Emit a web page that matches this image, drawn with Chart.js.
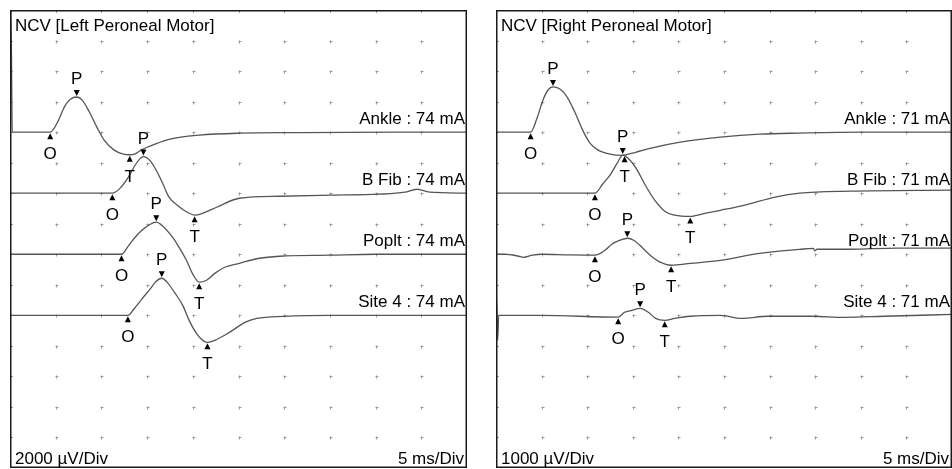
<!DOCTYPE html>
<html>
<head>
<meta charset="utf-8">
<script src="https://cdn.jsdelivr.net/npm/chart.js@4.4.0/dist/chart.umd.min.js"></script>
<style>
    body { margin: 0; background: #fff; }
    .panel { position: absolute; top: 10px; height: 458px; }
    #left { left: 10px; width: 457px; }
    #right { left: 496px; width: 456px; }
</style>
</head>
<body>
<div class="panel" id="left"><canvas id="ncvLeft"></canvas></div>
<div class="panel" id="right"><canvas id="ncvRight"></canvas></div>
<script>
// time in ms, amplitude in µV (relative to each trace's own baseline)
const L_ANKLE = [[0,0],[0.1,8000],[0.25,0],[4.4,0],[5.2,650],[6.0,1700],[6.6,2150],[7.3,2300],[7.9,2100],[8.7,1300],[9.5,330],[10.3,-520],[11.4,-1180],[12.4,-1440],[13.1,-1480],[13.7,-1420],[14.5,-1120],[15.6,-850],[17.5,-460],[20.7,-200],[25.1,-70],[31.7,-30],[42.6,0],[50,0]];
const L_BFIB = [[0,0],[11.2,0],[12.0,300],[12.9,1000],[13.6,1750],[14.2,2250],[14.6,2400],[15.3,2150],[16.0,1500],[16.7,650],[17.4,-260],[18.3,-790],[19.4,-1250],[20.2,-1440],[21.1,-1310],[22.6,-920],[25.1,-330],[29.5,-200],[35,-130],[40.4,-65],[43.2,65],[44.5,260],[45.9,65],[50,0]];
const L_POPLT = [[0,0],[12.2,0],[12.9,500],[13.6,1050],[14.4,1550],[15.3,1950],[16.0,2100],[16.7,1850],[17.8,1100],[18.3,650],[19.3,-390],[20.0,-1300],[20.7,-1830],[21.5,-1700],[22.4,-1250],[23.5,-850],[25.1,-590],[27.3,-260],[29.5,-130],[35,-60],[40,0],[50,0]];
const L_SITE4 = [[0,0],[12.9,0],[13.6,450],[14.4,1050],[15.3,1700],[16.0,2230],[16.6,2430],[17.2,2160],[18.0,1500],[18.9,650],[19.6,-330],[20.4,-1180],[21.1,-1640],[21.6,-1770],[22.4,-1640],[24.0,-1120],[25.7,-460],[27.0,-200],[30.0,-65],[35,0],[50,0]];

const R_ANKLE = [[0,0],[3.8,0],[4.5,460],[5.15,1050],[5.7,1380],[6.25,1480],[7.0,1410],[7.8,1150],[8.65,650],[9.5,65],[10.3,-360],[11.2,-590],[12.5,-720],[13.8,-760],[15.3,-660],[16.9,-530],[20.2,-330],[24.6,-165],[28.9,-65],[33.3,-30],[40,0],[50,0]];
const R_BFIB = [[0,0],[10.85,0],[11.7,300],[12.5,590],[13.3,990],[13.9,1250],[14.7,1080],[15.5,750],[16.3,300],[17.4,-230],[18.5,-590],[19.6,-720],[21.3,-760],[22.9,-660],[24.6,-560],[27.3,-390],[30.6,-130],[33.3,0],[38.8,65],[50,100]];
const R_POPLT = [[0,0],[1,0],[2.5,-65],[3,-100],[4,-30],[5,0],[8,-20],[10.85,-30],[11.95,130],[12.7,330],[13.6,460],[14.4,525],[15.1,460],[16.0,230],[16.9,-30],[18.0,-260],[19.2,-360],[21.3,-300],[24.6,-200],[28.9,30],[33.3,160],[34.8,195],[34.95,110],[35.2,165],[38.8,165],[44,200],[50,200]];
const R_SITE4 = [[0,0],[0.08,490],[0.18,-820],[0.3,0],[5,0],[13.4,-60],[14.1,100],[14.9,165],[15.8,230],[16.7,100],[17.5,-100],[18.5,-165],[19.6,-100],[21.3,-30],[24.6,0],[26.9,-100],[29.8,-30],[34.6,-30],[38.2,-65],[42.5,-30],[50,30]];

const SITES = ['Ankle', 'B Fib', 'Poplt', 'Site 4'];
const LEFT_MA = [74, 74, 74, 74];
const RIGHT_MA = [71, 71, 71, 71];

// marker: [label, trace index, time ms, amplitude µV]
const LEFT_MARKS = [
    ['O',0,4.4,0],['P',0,7.3,2300],['T',0,13.1,-1480],
    ['O',1,11.2,0],['P',1,14.6,2400],['T',1,20.2,-1440],
    ['O',2,12.2,0],['P',2,16.0,2100],['T',2,20.7,-1830],
    ['O',3,12.9,0],['P',3,16.6,2430],['T',3,21.6,-1770]
];
const RIGHT_MARKS = [
    ['O',0,3.8,0],['P',0,6.25,1480],['T',0,14.1,-760],
    ['O',1,10.85,0],['P',1,13.9,1250],['T',1,21.3,-760],
    ['O',2,10.85,-30],['P',2,14.4,525],['T',2,19.2,-360],
    ['O',3,13.4,-60],['P',3,15.8,230],['T',3,18.5,-165]
];

const FONT = '17px "Liberation Sans", Arial, sans-serif';

function decorPlugin(cfg) {
    return {
        id: 'ncvDecor',
        beforeDatasetsDraw(chart) {
            const { ctx, chartArea: a, scales: { x, y } } = chart;
            ctx.save();
            ctx.strokeStyle = '#999';
            ctx.lineWidth = 1;
            const xs = x.ticks.map(t => Math.round(x.getPixelForValue(t.value)) + 0.5);
            const ys = y.ticks.map(t => Math.round(y.getPixelForValue(t.value)) + 0.5);
            xs.slice(1, -1).forEach(px => {
                ys.slice(1, -1).forEach(py => {
                    ctx.beginPath();
                    ctx.moveTo(px - 1, py); ctx.lineTo(px + 2, py);
                    ctx.moveTo(px, py - 1); ctx.lineTo(px, py + 2);
                    ctx.stroke();
                });
                ctx.beginPath();
                ctx.moveTo(px, a.top); ctx.lineTo(px, a.top + 3);
                ctx.stroke();
            });
            ys.slice(1, -1).forEach(py => {
                ctx.beginPath();
                ctx.moveTo(a.left, py); ctx.lineTo(a.left + 3, py);
                ctx.stroke();
            });
            ctx.restore();
        },
        afterDraw(chart) {
            const { ctx, chartArea: a, scales: { x, y } } = chart;
            ctx.save();
            // frame
            ctx.strokeStyle = '#1a1a1a';
            ctx.lineWidth = 1.5;
            ctx.strokeRect(a.left + 0.75, a.top + 0.75, a.right - a.left - 1.5, a.bottom - a.top - 1.5);
            ctx.fillStyle = '#000';
            ctx.font = FONT;
            ctx.textBaseline = 'alphabetic';
            ctx.textAlign = 'left';
            ctx.fillText(cfg.title, a.left + 5, a.top + 21);
            ctx.fillText(cfg.gain, a.left + 5, a.bottom - 4);
            ctx.textAlign = 'right';
            ctx.fillText('5 ms/Div', a.right - 3, a.bottom - 4);
            cfg.offsets.forEach((off, i) => {
                ctx.fillText(SITES[i] + ' : ' + cfg.mA[i] + ' mA', a.right - 2, y.getPixelForValue(off) - 8);
            });
            // markers
            ctx.textAlign = 'center';
            cfg.marks.forEach(([lab, tr, t, v]) => {
                const px = x.getPixelForValue(t);
                const py = y.getPixelForValue(cfg.offsets[tr] + v);
                ctx.beginPath();
                if (lab === 'P') {
                    ctx.moveTo(px, py - 1);
                    ctx.lineTo(px - 3, py - 7);
                    ctx.lineTo(px + 3, py - 7);
                    ctx.closePath();
                    ctx.fill();
                    ctx.fillText(lab, px, py - 13);
                } else {
                    ctx.moveTo(px, py + 1);
                    ctx.lineTo(px - 3, py + 7);
                    ctx.lineTo(px + 3, py + 7);
                    ctx.closePath();
                    ctx.fill();
                    ctx.fillText(lab, px, py + 27);
                }
            });
            ctx.restore();
        }
    };
}

function renderNcv(canvasId, traces, offsets, yMin, step, cfg) {
    const ctx = document.getElementById(canvasId).getContext('2d');
    return new Chart(ctx, {
        type: 'line',
        data: {
            datasets: traces.map((tr, i) => ({
                data: tr.map(p => ({ x: p[0], y: p[1] + offsets[i] })),
                borderColor: '#555',
                borderWidth: 1.3,
                pointRadius: 0,
                fill: false,
                cubicInterpolationMode: 'monotone'
            }))
        },
        options: {
            responsive: true,
            maintainAspectRatio: false,
            animation: false,
            layout: { padding: 0 },
            plugins: {
                legend: { display: false },
                tooltip: { enabled: false }
            },
            scales: {
                x: {
                    type: 'linear', min: 0, max: 50,
                    ticks: { stepSize: 5, display: false },
                    grid: { display: false, drawTicks: false },
                    border: { display: false }
                },
                y: {
                    type: 'linear', min: yMin, max: 0,
                    ticks: { stepSize: step, display: false },
                    grid: { display: false, drawTicks: false },
                    border: { display: false }
                }
            }
        },
        plugins: [decorPlugin(cfg)]
    });
}

renderNcv('ncvLeft', [L_ANKLE, L_BFIB, L_POPLT, L_SITE4], [-8000, -12000, -16000, -20000], -30000, 2000, {
    title: 'NCV [Left Peroneal Motor]',
    gain: '2000 µV/Div',
    mA: LEFT_MA,
    offsets: [-8000, -12000, -16000, -20000],
    marks: LEFT_MARKS
});

renderNcv('ncvRight', [R_ANKLE, R_BFIB, R_POPLT, R_SITE4], [-4000, -6000, -8000, -10000], -15000, 1000, {
    title: 'NCV [Right Peroneal Motor]',
    gain: '1000 µV/Div',
    mA: RIGHT_MA,
    offsets: [-4000, -6000, -8000, -10000],
    marks: RIGHT_MARKS
});
</script>
</body>
</html>
